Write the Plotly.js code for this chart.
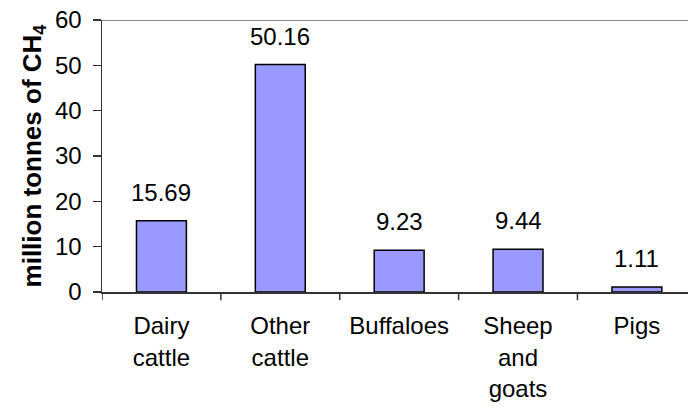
<!DOCTYPE html>
<html><head><meta charset="utf-8">
<script src="https://cdn.plot.ly/plotly-3.0.1.min.js"></script>
<style>html,body{margin:0;padding:0;background:#fff}#c{width:688px;height:416px}</style>
</head><body><div id="c"></div>
<script>
const categories = ["Dairy<br>cattle", "Other<br>cattle", "Buffaloes", "Sheep<br>and<br>goats", "Pigs"];
const values = [15.69, 50.16, 9.23, 9.44, 1.11];
const yTicks = [0, 10, 20, 30, 40, 50, 60];

const FONT = "Liberation Sans, Arial, sans-serif";
const idx = categories.map((c, i) => i);

const trace = {
  type: "bar",
  x: idx,
  y: values,
  marker: {color: "#9999FF", line: {color: "#000", width: 1.5}},
  hoverinfo: "none"
};

const annotations = values.map((v, i) => ({
  x: i, y: v, xref: "x", yref: "y",
  text: v.toFixed(2), showarrow: false,
  yanchor: "bottom", yshift: 13,
  font: {family: FONT, size: 24, color: "#000"}
}));

const layout = {
  width: 688, height: 416,
  margin: {l: 102, r: 0, t: 20, b: 124},
  paper_bgcolor: "#fff", plot_bgcolor: "#fff",
  showlegend: false,
  bargap: 0.58,
  font: {family: FONT, size: 24, color: "#000"},
  xaxis: {
    range: [-0.5, 4.43],
    tickmode: "array", tickvals: idx, ticktext: categories,
    showgrid: false, zeroline: false,
    showline: true, linecolor: "#333", linewidth: 1.5,
    ticks: "",
    ticklabelstandoff: 12,
    tickfont: {family: FONT, size: 24, color: "#000"},
    fixedrange: true
  },
  yaxis: {
    range: [0, 60],
    tickmode: "array", tickvals: yTicks,
    showgrid: false, zeroline: false,
    showline: true, linecolor: "#333", linewidth: 1.5,
    ticks: "outside", ticklen: 8, tickcolor: "#333", tickwidth: 1.5,
    ticklabelstandoff: 6,
    tickfont: {family: FONT, size: 24, color: "#000"},
    title: {text: "<b>million tonnes of CH<sub>4</sub></b>", font: {family: FONT, size: 26, color: "#000"}, standoff: 6},
    fixedrange: true
  },
  annotations: annotations,
  shapes: [
    {type: "line", xref: "paper", yref: "y", x0: 0, x1: 1, y0: 60, y1: 60, line: {color: "#888", width: 2}}
  ].concat([-0.5, 0.5, 1.5, 2.5, 3.5].map(b => ({
    type: "line", xref: "x", yref: "paper", x0: b, x1: b, y0: 0, y1: -0.03, line: {color: "#333", width: 1.5}
  })))
};

Plotly.newPlot("c", [trace], layout, {displayModeBar: false, staticPlot: true});
</script></body></html>
